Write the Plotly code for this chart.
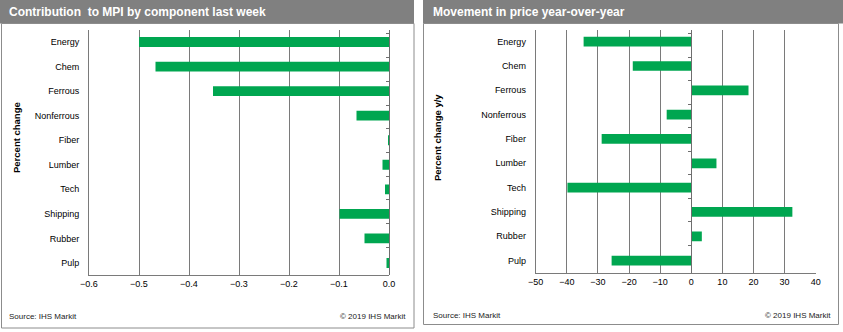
import plotly.graph_objects as go

W, H = 843, 332

categories = ["Energy", "Chem", "Ferrous", "Nonferrous", "Fiber",
              "Lumber", "Tech", "Shipping", "Rubber", "Pulp"]
contribution = [-0.50, -0.467, -0.352, -0.065, -0.002,
                -0.013, -0.008, -0.099, -0.049, -0.005]
yoy_change = [-34.6, -18.8, 18.4, -7.9, -28.8,
              8.1, -39.8, 32.5, 3.4, -25.6]

left_title = "Contribution  to MPI by component last week"
right_title = "Movement in price year-over-year"
left_ytitle = "Percent change"
right_ytitle = "Percent change y/y"
source_txt = "Source: IHS Markit"
copy_txt = "© 2019 IHS Markit"

left_range = [-0.6, 0.0]
right_range = [-50, 40]

GREEN = "#00a650"
GRID = "#7a7a7a"
HEAD = "#808080"
FONT = "Liberation Sans, Arial, sans-serif"


def px(x):
    return x / W


def py(y):
    return 1 - y / H


L_dom_x = [px(89), px(389)]
L_dom_y = [py(275.3), py(29.7)]
R_dom_x = [px(535.7), px(815.7)]
R_dom_y = [py(272.8), py(29.5)]


def zero_pos(dom, rng):
    return dom[0] + (dom[1] - dom[0]) * (0 - rng[0]) / (rng[1] - rng[0])


fig = go.Figure()

fig.add_trace(go.Bar(x=contribution, y=categories, orientation="h",
                     marker=dict(color=GREEN, line=dict(width=0)), width=0.4,
                     xaxis="x", yaxis="y", showlegend=False, hoverinfo="x+y"))
fig.add_trace(go.Bar(x=yoy_change, y=categories, orientation="h",
                     marker=dict(color=GREEN, line=dict(width=0)), width=0.4,
                     xaxis="x2", yaxis="y2", showlegend=False, hoverinfo="x+y"))
# invisible helpers so the zero-crossing category axes are drawn
fig.add_trace(go.Scatter(x=[0] * len(categories), y=categories, mode="markers",
                         marker=dict(opacity=0), xaxis="x", yaxis="y3",
                         showlegend=False, hoverinfo="skip"))
fig.add_trace(go.Scatter(x=[0] * len(categories), y=categories, mode="markers",
                         marker=dict(opacity=0), xaxis="x2", yaxis="y4",
                         showlegend=False, hoverinfo="skip"))

tickfont = dict(family=FONT, size=9, color="#000000")

xcommon = dict(showgrid=True, gridcolor=GRID, gridwidth=1, zeroline=False,
               showline=True, linecolor=GRID, linewidth=1, ticks="",
               tickfont=tickfont, fixedrange=True, automargin=False)
ycommon = dict(type="category", categoryorder="array", categoryarray=categories,
               autorange="reversed", showgrid=False, zeroline=False,
               showline=True, linecolor=GRID, linewidth=1, ticks="",
               ticklabelstandoff=7, tickfont=tickfont, fixedrange=True,
               automargin=False)
ovcommon = dict(type="category", categoryorder="array", categoryarray=categories,
                autorange="reversed", showgrid=False, zeroline=False,
                showline=True, linecolor="#6e6e6e", linewidth=1,
                ticks="outside", ticklen=3, tickcolor="#6e6e6e",
                tickson="boundaries", showticklabels=False, fixedrange=True,
                anchor="free", side="left", automargin=False)

fig.update_layout(
    width=W, height=H, autosize=False,
    margin=dict(l=0, r=0, t=0, b=0, pad=0, autoexpand=False),
    paper_bgcolor="white", plot_bgcolor="white",
    bargap=0.6,
    xaxis=dict(domain=L_dom_x, range=left_range, dtick=0.1, tickformat=".1f",
               anchor="y", **xcommon),
    yaxis=dict(domain=L_dom_y, anchor="x", **ycommon),
    xaxis2=dict(domain=R_dom_x, range=right_range, dtick=10, anchor="y2",
                **xcommon),
    yaxis2=dict(domain=R_dom_y, anchor="x2", **ycommon),
    yaxis3=dict(overlaying="y", position=zero_pos(L_dom_x, left_range),
                **ovcommon),
    yaxis4=dict(overlaying="y2", position=zero_pos(R_dom_x, right_range),
                **ovcommon),
)

shapes = []
# headers
shapes.append(dict(type="rect", xref="paper", yref="paper",
                   x0=px(0), x1=px(414), y0=py(23.5), y1=py(0),
                   fillcolor=HEAD, line=dict(width=0), layer="below"))
shapes.append(dict(type="rect", xref="paper", yref="paper",
                   x0=px(423), x1=px(843), y0=py(23.5), y1=py(0),
                   fillcolor=HEAD, line=dict(width=0), layer="below"))
# panel borders
shapes.append(dict(type="rect", xref="paper", yref="paper",
                   x0=px(1.5), x1=px(414), y0=py(328), y1=py(23.5),
                   fillcolor="rgba(0,0,0,0)", line=dict(color="#8c8c8c", width=1),
                   layer="below"))
shapes.append(dict(type="rect", xref="paper", yref="paper",
                   x0=px(423.5), x1=px(838.5), y0=py(324.5), y1=py(23.5),
                   fillcolor="rgba(0,0,0,0)", line=dict(color="#8c8c8c", width=1),
                   layer="below"))
fig.update_layout(shapes=shapes)

ann = []
titlefont = dict(family=FONT, size=12, color="white")
ann.append(dict(text="<b>" + left_title + "</b>", xref="paper", yref="paper",
                x=px(7), y=py(12), xanchor="left", yanchor="middle",
                showarrow=False, font=titlefont))
ann.append(dict(text="<b>" + right_title + "</b>", xref="paper", yref="paper",
                x=px(431), y=py(12), xanchor="left", yanchor="middle",
                showarrow=False, font=titlefont))
axfont = dict(family=FONT, size=9.5, color="#000000")
ann.append(dict(text="<b>" + left_ytitle + "</b>", xref="paper", yref="paper",
                x=px(16), y=py(138), xanchor="center", yanchor="middle",
                textangle=-90, showarrow=False, font=axfont))
ann.append(dict(text="<b>" + right_ytitle + "</b>", xref="paper", yref="paper",
                x=px(437), y=py(138), xanchor="center", yanchor="middle",
                textangle=-90, showarrow=False, font=axfont))
footfont = dict(family=FONT, size=8, color="#222222")
ann.append(dict(text=source_txt, xref="paper", yref="paper",
                x=px(7), y=py(316.5), xanchor="left", yanchor="middle",
                showarrow=False, font=footfont))
ann.append(dict(text=copy_txt, xref="paper", yref="paper",
                x=px(408), y=py(316.5), xanchor="right", yanchor="middle",
                showarrow=False, font=footfont))
ann.append(dict(text=source_txt, xref="paper", yref="paper",
                x=px(431), y=py(315.5), xanchor="left", yanchor="middle",
                showarrow=False, font=footfont))
ann.append(dict(text=copy_txt, xref="paper", yref="paper",
                x=px(833), y=py(315.5), xanchor="right", yanchor="middle",
                showarrow=False, font=footfont))
fig.update_layout(annotations=ann)

fig.write_html("out.html", config={"displayModeBar": False})
